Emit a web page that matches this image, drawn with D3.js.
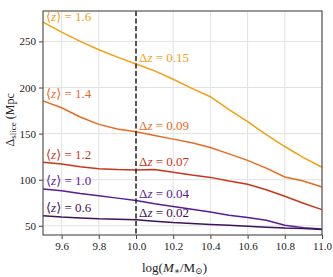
<!DOCTYPE html>
<html>
<head>
<meta charset="utf-8">
<script src="https://cdn.jsdelivr.net/npm/d3@7"></script>
<style>
  body { margin: 0; background: #fff; }
  svg text { font-family: "Liberation Serif", "DejaVu Serif", serif; }
</style>
</head>
<body>
<div id="chart"></div>
<script>
// data
const mass = [9.5, 9.6, 9.7, 9.8, 9.9, 10.0, 10.1, 10.2, 10.3, 10.4, 10.5, 10.6, 10.7, 10.8, 10.9, 11.0];
const zMean = ["1.6", "1.4", "1.2", "1.0", "0.6"];
const dz = ["0.15", "0.09", "0.07", "0.04", "0.02"];
const colors = ["#f2a012", "#e86a1e", "#c8361a", "#5a1c96", "#3e1258"];
const s16 = [271, 260, 250, 241, 233, 225.5, 218, 209, 199, 190, 176, 163, 149, 136, 124, 113.5];
const s14 = [185.5, 178, 168, 160, 155, 152, 148, 144, 140, 135, 128, 121, 112.5, 103, 98.5, 92];
const s12 = [119, 117, 114, 112, 111, 110.5, 111, 108, 105, 102.5, 98.5, 95, 89, 82, 74.5, 67.5];
const s10 = [90, 88, 85, 82.5, 80, 77.5, 74, 71, 68, 65, 61.5, 59, 56, 50.5, 48, 46.5];
const s06 = [61, 59.5, 58.5, 57.5, 57, 56.5, 55, 53.5, 52.5, 51.5, 50.5, 49.5, 48.5, 47.5, 47, 46];
const series = [s16, s14, s12, s10, s06];
const xTicks = [9.6, 9.8, 10.0, 10.2, 10.4, 10.6, 10.8, 11.0];
const yTicks = [50, 100, 150, 200, 250];
const xCut = 10.0;

const margin = {top: 11, right: 11, bottom: 42, left: 43};
const width = 333 - margin.left - margin.right;
const height = 277 - margin.top - margin.bottom;

const svg = d3.select("#chart")
    .append("svg")
    .attr("width", 333)
    .attr("height", 277)
    .append("g")
    .attr("transform", "translate(" + margin.left + "," + margin.top + ")");

const x = d3.scaleLinear().domain([9.5, 11.0]).range([0, width]);
const y = d3.scaleLinear().domain([40, 283]).range([height, 0]);

// grid
svg.append("g")
    .selectAll("line")
    .data(xTicks)
    .enter().append("line")
    .attr("x1", d => x(d)).attr("x2", d => x(d))
    .attr("y1", 0).attr("y2", height)
    .style("stroke", "#e2e2e2").style("stroke-width", 1);
svg.append("g")
    .selectAll("line")
    .data(yTicks)
    .enter().append("line")
    .attr("y1", d => y(d)).attr("y2", d => y(d))
    .attr("x1", 0).attr("x2", width)
    .style("stroke", "#e2e2e2").style("stroke-width", 1);

// axes
const xAxis = d3.axisBottom(x).tickValues(xTicks).tickFormat(d3.format(".1f")).tickSize(4).tickPadding(3);
const yAxis = d3.axisLeft(y).tickValues(yTicks).tickSize(4).tickPadding(3);

svg.append("g")
    .attr("transform", "translate(0," + height + ")")
    .call(xAxis)
    .call(g => g.select(".domain").remove())
    .call(g => g.selectAll("line").style("stroke", "#444"))
    .call(g => g.selectAll("text").style("font-family", "Liberation Serif").style("font-size", "11px").style("fill", "#222"));

svg.append("g")
    .call(yAxis)
    .call(g => g.select(".domain").remove())
    .call(g => g.selectAll("line").style("stroke", "#444"))
    .call(g => g.selectAll("text").style("font-family", "Liberation Serif").style("font-size", "11px").style("fill", "#222"));

// lines
const line = d3.line()
    .x((d, i) => x(mass[i]))
    .y(d => y(d));

svg.selectAll(".series")
    .data(series)
    .enter().append("path")
    .attr("class", "series")
    .attr("d", line)
    .style("fill", "none")
    .style("stroke", (d, i) => colors[i])
    .style("stroke-width", 1.5);

// dashed cut
svg.append("line")
    .attr("x1", x(xCut)).attr("x2", x(xCut))
    .attr("y1", 0).attr("y2", height)
    .style("stroke", "#222")
    .style("stroke-width", 1.5)
    .style("stroke-dasharray", "5,2.5");

// frame
svg.append("rect")
    .attr("width", width).attr("height", height)
    .style("fill", "none")
    .style("stroke", "#555")
    .style("stroke-width", 1.2);

// <z> labels at left edge
const zOff = [1, 3, 3, 4, 4];
const zl = svg.selectAll(".zlab")
    .data(series)
    .enter().append("text")
    .attr("class", "zlab")
    .attr("x", 3)
    .attr("y", (d, i) => y(d[0]) - zOff[i])
    .style("font-size", "13px")
    .style("fill", (d, i) => colors[i]);
zl.append("tspan").text("\u27E8");
zl.append("tspan").style("font-style", "italic").text("z");
zl.append("tspan").text((d, i) => "\u27E9 = " + zMean[i]);

// dz labels at the cut
const dOff = [2, 2, 4, 2, 3];
const dl = svg.selectAll(".dzlab")
    .data(series)
    .enter().append("text")
    .attr("class", "dzlab")
    .attr("x", x(xCut) + 3)
    .attr("y", (d, i) => y(d[5]) - dOff[i])
    .style("font-size", "13px")
    .style("fill", (d, i) => colors[i]);
dl.append("tspan").text("\u0394");
dl.append("tspan").style("font-style", "italic").text("z");
dl.append("tspan").text((d, i) => " = " + dz[i]);

// axis titles
const xt = svg.append("text")
    .attr("x", width / 2 - 8)
    .attr("y", height + 37)
    .attr("text-anchor", "middle")
    .style("font-size", "13px")
    .style("fill", "#222");
xt.append("tspan").text("log(");
xt.append("tspan").style("font-style", "italic").text("M");
xt.append("tspan").attr("dy", 2).style("font-size", "9px").text("\u2217");
xt.append("tspan").attr("dy", -2).text("/M");
xt.append("tspan").attr("dy", 2).style("font-size", "9px").text("\u2299");
xt.append("tspan").attr("dy", -2).text(")");

const yt = svg.append("text")
    .attr("transform", "translate(-29," + y(165) + ") rotate(-90)")
    .attr("text-anchor", "middle")
    .style("font-size", "12px")
    .style("fill", "#222");
yt.append("tspan").text("\u0394");
yt.append("tspan").attr("dy", 2).style("font-size", "9px").text("slice");
yt.append("tspan").attr("dy", -2).text(" (Mpc");
</script>
</body>
</html>
